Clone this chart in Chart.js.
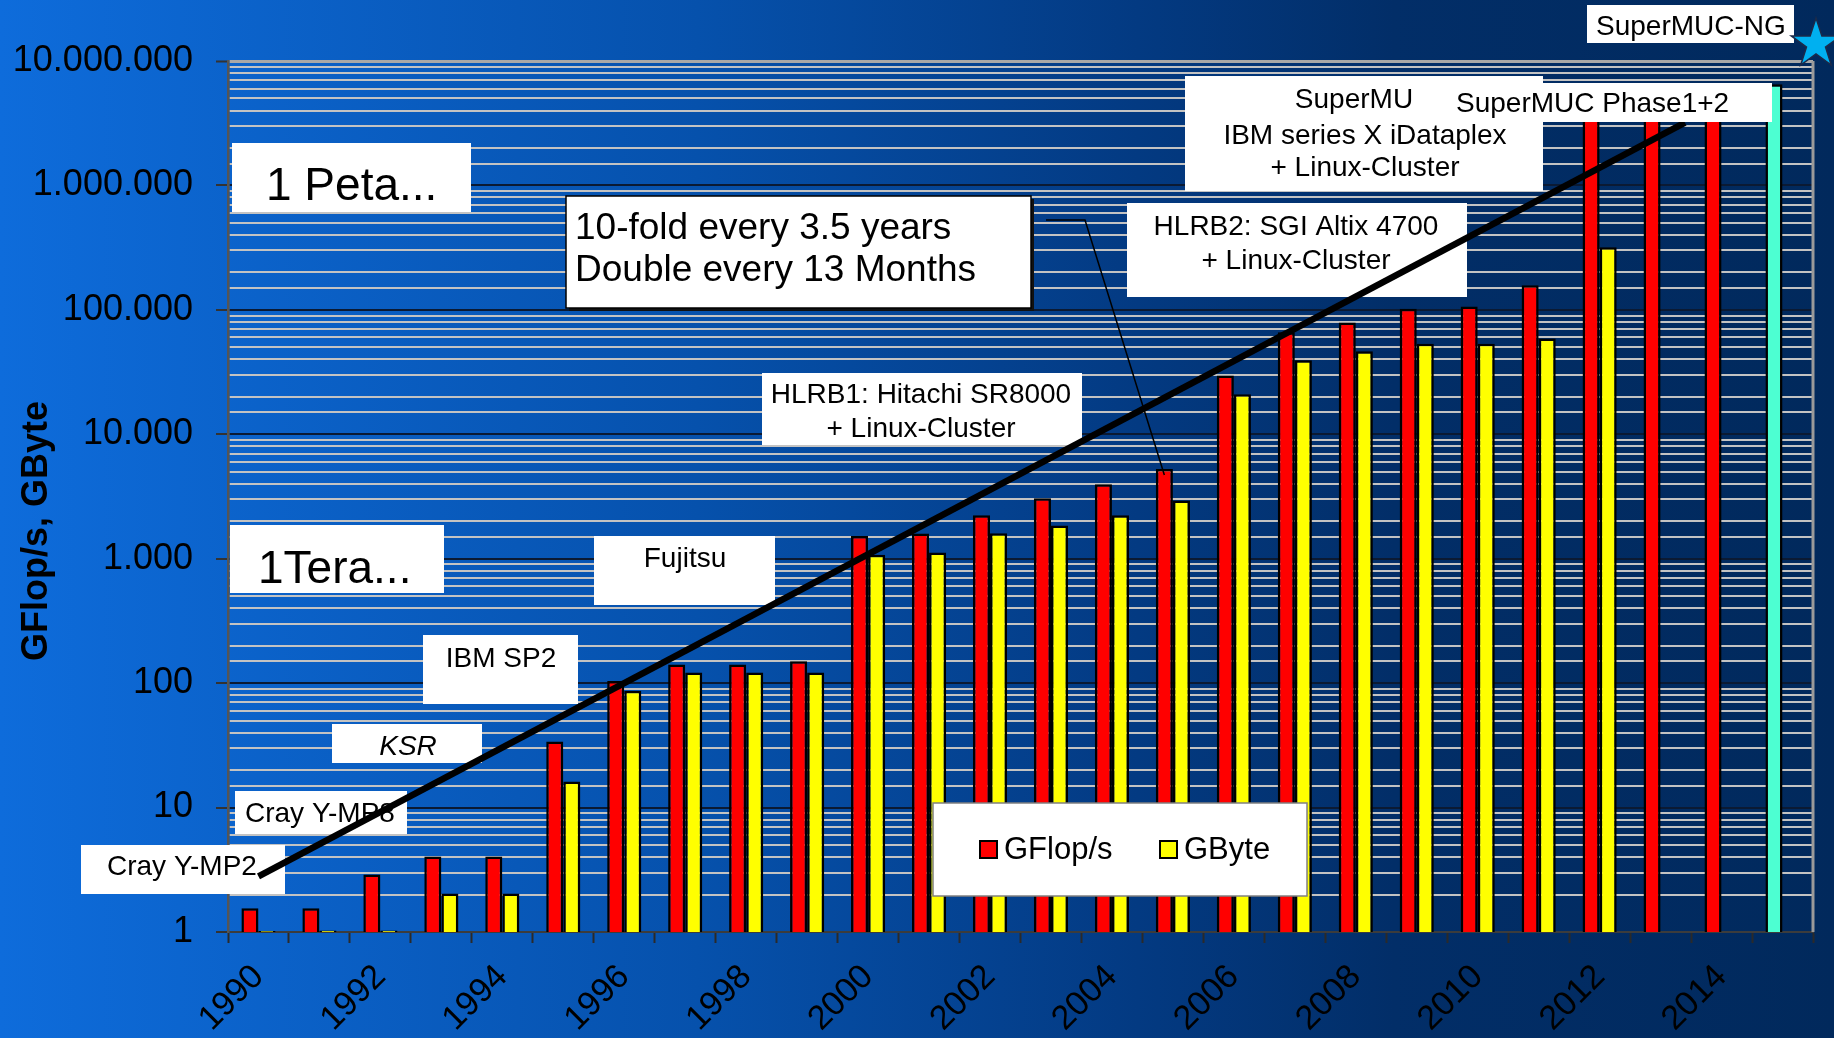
<!DOCTYPE html>
<html>
<head>
<meta charset="utf-8">
<script src="https://cdn.jsdelivr.net/npm/chart.js@4.4.1/dist/chart.umd.min.js"></script>
<style>
  html, body { margin: 0; padding: 0; background: #0a4aa0; }
  canvas { display: block; }
</style>
</head>
<body>
<canvas id="lrzChart" width="1834" height="1038"></canvas>
<script>
const years = ['1990', '1991', '1992', '1993', '1994', '1995', '1996', '1997', '1998', '1999',
               '2000', '2001', '2002', '2003', '2004', '2005', '2006', '2007', '2008', '2009',
               '2010', '2011', '2012', '2013', '2014', '2015'];
const gflops = [1.55, 1.55, 2.9, 4.05, 4.05, 34, 104, 141, 141, 150,
                1525, 1595, 2240, 3060, 3970, 5260, 29700, 66100, 79000, 102000,
                106400, 158000, 3500000, 3500000, 3500000, 6500000];
const gbytes = [1.02, 1.03, 1.03, 2.04, 2.04, 16.2, 86.7, 122, 122, 122,
                1075, 1123, 1600, 1850, 2240, 2930, 21000, 39300, 46500, 53300,
                53300, 58800, 318000, null, null, null];
const trendX = [0, 23.4];          // position in years after 1990
const trendY = [2.8, 3200000];
const yTickLabels = ['1', '10', '100', '1.000', '10.000', '100.000', '1.000.000', '10.000.000'];
const seriesNames = ['GFlop/s', 'GByte'];
const yTitle = 'GFlop/s, GByte';

const FONT = '"Liberation Sans", Arial, sans-serif';
const RED = '#ff0000', YELLOW = '#ffff00', TEAL = '#4dffd2';
const flopColors = years.map(y => y === '2015' ? TEAL : RED);

// text boxes (pixel layout)
const notesUnder = [
  { box: [232, 143, 471, 212], lines: ['1 Peta...'], x: 266, base: [200], size: 46, align: 'left' },
  { box: [230, 525, 444, 593], lines: ['1Tera...'], x: 258, base: [583], size: 46, align: 'left' },
  { box: [566, 196, 1031, 308], lines: ['10-fold every 3.5 years', 'Double every 13 Months'], x: 575, base: [239, 281], size: 37, align: 'left', frame: true },
  { box: [594, 536, 775, 605], lines: ['Fujitsu'], x: 685, base: [567], size: 28, align: 'center' },
  { box: [423, 635, 578, 704], lines: ['IBM SP2'], x: 501, base: [667], size: 28, align: 'center' },
  { box: [332, 724, 482, 763], lines: ['KSR'], x: 408, base: [755], size: 28, align: 'center', italic: true },
  { box: [235, 791, 407, 834], lines: ['Cray Y-MP8'], x: 245, base: [822], size: 28, align: 'left' },
  { box: [81, 845, 285, 894], lines: ['Cray Y-MP2'], x: 107, base: [875], size: 28, align: 'left' },
  { box: [762, 373, 1082, 445], lines: ['HLRB1: Hitachi SR8000', '+ Linux-Cluster'], x: 921, base: [403, 437], size: 28, align: 'center' },
  { box: [1127, 203, 1467, 297], lines: ['HLRB2: SGI Altix 4700', '+ Linux-Cluster'], x: 1296, base: [235, 269], size: 28, align: 'center' },
  { box: [1185, 76, 1543, 191], lines: ['SuperMU'], x: 1354, base: [108], size: 28, align: 'center' },
  { box: [1185, 76, 1185, 76], lines: ['IBM series X iDataplex', '+ Linux-Cluster'], x: 1365, base: [144, 176], size: 28, align: 'center' }
];
const notesOver = [
  { box: [1445, 83, 1772, 122], lines: ['SuperMUC Phase1+2'], x: 1456, base: [112], size: 28, align: 'left' },
  { box: [1587, 5, 1794, 43], lines: ['SuperMUC-NG'], x: 1596, base: [35], size: 28, align: 'left' }
];

function drawNote(ctx, n) {
  const [x0, y0, x1, y1] = n.box;
  ctx.save();
  if (x1 > x0) {
    if (n.frame) {
      ctx.fillStyle = '#111';
      ctx.fillRect(x0 + 3, y0 + 3, x1 - x0, y1 - y0);
    }
    ctx.fillStyle = '#fff';
    ctx.fillRect(x0, y0, x1 - x0, y1 - y0);
    if (n.frame) {
      ctx.strokeStyle = '#000';
      ctx.lineWidth = 1.5;
      ctx.strokeRect(x0, y0, x1 - x0, y1 - y0);
    }
  }
  ctx.fillStyle = '#000';
  ctx.font = (n.italic ? 'italic ' : '') + n.size + 'px ' + FONT;
  ctx.textAlign = n.align;
  ctx.textBaseline = 'alphabetic';
  n.lines.forEach((t, i) => ctx.fillText(t, n.x, n.base[i]));
  ctx.restore();
}

function drawStar(ctx, cx, cy, R, r) {
  ctx.save();
  ctx.beginPath();
  for (let i = 0; i < 10; i++) {
    const a = -Math.PI / 2 + i * Math.PI / 5;
    const rad = i % 2 === 0 ? R : r;
    ctx.lineTo(cx + rad * Math.cos(a), cy + rad * Math.sin(a));
  }
  ctx.closePath();
  ctx.fillStyle = '#00b0f0';
  ctx.fill();
  ctx.strokeStyle = '#1b2a4a';
  ctx.lineWidth = 1.5;
  ctx.stroke();
  ctx.restore();
}

function drawLegend(chart) {
  const ctx = chart.ctx;
  ctx.save();
  ctx.fillStyle = '#fff';
  ctx.fillRect(933, 803, 374, 93);
  ctx.strokeStyle = '#808080';
  ctx.lineWidth = 1.5;
  ctx.strokeRect(933, 803, 374, 93);
  const itemX = [980, 1160];
  chart.data.datasets.filter(d => d.type !== 'line').forEach((d, i) => {
    const c = Array.isArray(d.backgroundColor) ? d.backgroundColor[0] : d.backgroundColor;
    ctx.fillStyle = c;
    ctx.fillRect(itemX[i], 841, 17, 17);
    ctx.strokeStyle = '#000';
    ctx.lineWidth = 2;
    ctx.strokeRect(itemX[i], 841, 17, 17);
    ctx.fillStyle = '#000';
    ctx.font = '31px ' + FONT;
    ctx.textAlign = 'left';
    ctx.fillText(d.label, itemX[i] + 24, 859);
  });
  ctx.restore();
}

const isDecade = v => {
  const e = Math.log10(v);
  return Math.abs(e - Math.round(e)) < 1e-6;
};

const decor = {
  id: 'decor',
  beforeDraw(chart) {
    const { ctx, width, height } = chart;
    const g = ctx.createLinearGradient(0, 0, width, 0);
    g.addColorStop(0, '#0e6cdb');
    g.addColorStop(0.38, '#0651ac');
    g.addColorStop(0.62, '#033a82');
    g.addColorStop(0.76, '#022e68');
    g.addColorStop(1, '#01295c');
    ctx.save();
    ctx.fillStyle = g;
    ctx.fillRect(0, 0, width, height);
    ctx.restore();
  },
  afterDatasetDraw(chart, args) {
    if (args.index === 0) notesUnder.forEach(n => drawNote(chart.ctx, n));
  },
  afterDatasetsDraw(chart) {
    const ctx = chart.ctx;
    const area = chart.chartArea;
    ctx.save();
    // right frame
    ctx.strokeStyle = '#9a9a9a';
    ctx.lineWidth = 3;
    ctx.beginPath();
    ctx.moveTo(area.right, area.top);
    ctx.lineTo(area.right, area.bottom);
    ctx.stroke();
    // callout from the 10-fold box to the 2005 bar
    const bar = chart.getDatasetMeta(0).data[years.indexOf('2005')];
    ctx.strokeStyle = '#000';
    ctx.lineWidth = 1.5;
    ctx.beginPath();
    ctx.moveTo(1046, 220);
    ctx.lineTo(1085, 220);
    ctx.lineTo(bar.x, bar.y + 6);
    ctx.stroke();
    ctx.restore();
    notesOver.forEach(n => drawNote(ctx, n));
    drawLegend(chart);
  },
  afterDraw(chart) {
    const ctx = chart.ctx;
    ctx.save();
    ctx.translate(37, 531);
    ctx.rotate(-Math.PI / 2);
    ctx.font = 'bold 36px ' + FONT;
    ctx.fillStyle = '#000';
    ctx.textAlign = 'center';
    ctx.textBaseline = 'middle';
    ctx.fillText(yTitle, 0, 0);
    ctx.restore();
    drawStar(ctx, 1816, 44, 26, 10);
  }
};

new Chart(document.getElementById('lrzChart').getContext('2d'), {
  type: 'bar',
  data: {
    labels: years,
    datasets: [
      {
        label: seriesNames[0],
        data: gflops,
        backgroundColor: flopColors,
        borderColor: '#000',
        borderWidth: 2.5,
        categoryPercentage: 0.56,
        barPercentage: 1.0,
        order: 0
      },
      {
        label: seriesNames[1],
        data: gbytes,
        backgroundColor: YELLOW,
        borderColor: '#000',
        borderWidth: 2.5,
        categoryPercentage: 0.56,
        barPercentage: 1.0,
        order: 0
      },
      {
        type: 'line',
        label: 'trend',
        parsing: false,
        data: trendX.map((x, i) => ({ x: x, y: trendY[i] })),
        borderColor: '#000',
        borderWidth: 6.5,
        pointRadius: 0,
        fill: false,
        clip: false,
        order: -1
      }
    ]
  },
  options: {
    responsive: false,
    animation: false,
    layout: { padding: { top: 61, right: 21, left: 0, bottom: 0 } },
    plugins: {
      legend: { display: false },
      tooltip: { enabled: false }
    },
    scales: {
      x: {
        type: 'category',
        position: 'bottom',
        afterFit: s => { s.height = 106; },
        grid: {
          offset: true,
          drawOnChartArea: false,
          drawTicks: true,
          tickLength: 11,
          tickColor: '#2a2a2a',
          tickWidth: 2
        },
        border: { color: '#3c3c3c', width: 2 },
        ticks: {
          autoSkip: false,
          maxRotation: 45,
          minRotation: 45,
          padding: 14,
          color: '#000',
          font: { family: FONT, size: 34 },
          callback: function (value, index) {
            return index % 2 === 0 ? years[index] : '';
          }
        }
      },
      y: {
        type: 'logarithmic',
        min: 1,
        max: 10000000,
        afterFit: s => { s.width = 228; },
        grid: {
          color: c => c.tick.value >= 10000000 ? '#a8a8a8' : (isDecade(c.tick.value) ? '#0b1a33' : '#c3c3c3'),
          lineWidth: c => c.tick.value >= 10000000 ? 3 : 2,
          tickLength: 12,
          tickColor: c => isDecade(c.tick.value) ? '#333' : 'rgba(0,0,0,0)',
          tickWidth: 2
        },
        border: { color: '#555', width: 2.5 },
        ticks: {
          autoSkip: false,
          padding: 23,
          color: '#000',
          font: { family: FONT, size: 36 },
          callback: function (value) {
            return isDecade(value) ? yTickLabels[Math.round(Math.log10(value))] : '';
          }
        }
      }
    }
  },
  plugins: [decor]
});
</script>
</body>
</html>
